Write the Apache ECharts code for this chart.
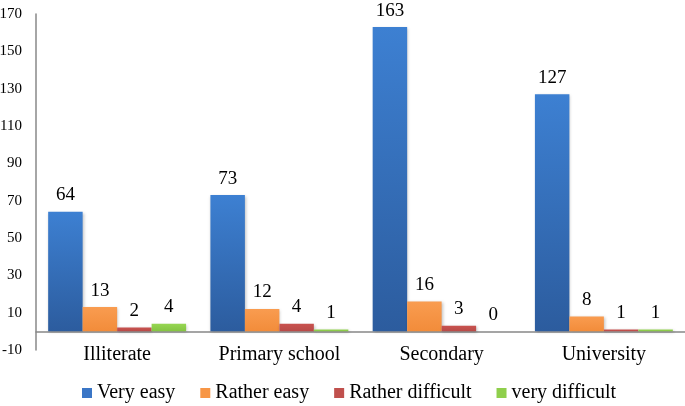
<!DOCTYPE html>
<html>
<head>
<meta charset="utf-8">
<script src="https://cdn.jsdelivr.net/npm/echarts@6/dist/echarts.min.js"></script>
<style>
  html, body { margin: 0; padding: 0; background: #fff; }
  #chart { width: 685px; height: 406px; }
</style>
</head>
<body>
<div id="chart"></div>
<script>
const categories = ["Illiterate", "Primary school", "Secondary", "University"];
const veryEasy = [64, 73, 163, 127];
const ratherEasy = [13, 12, 16, 8];
const ratherDifficult = [2, 4, 3, 1];
const veryDifficult = [4, 1, 0, 1];

const font = "Liberation Serif";

function grad(top, bottom) {
  return new echarts.graphic.LinearGradient(0, 0, 0, 1, [
    { offset: 0, color: top },
    { offset: 1, color: bottom }
  ]);
}

function makeSeries(name, data, top, bottom) {
  return {
    name: name,
    type: "bar",
    data: data,
    barGap: 0,
    barCategoryGap: "15%",
    itemStyle: {
      color: grad(top, bottom),
      shadowColor: "rgba(0,0,0,0.25)",
      shadowBlur: 3,
      shadowOffsetX: 1,
      shadowOffsetY: 1
    },
    label: {
      show: true,
      position: "top",
      distance: 7,
      color: "#000",
      fontFamily: font,
      fontSize: 19
    }
  };
}

const chart = echarts.init(document.getElementById("chart"));
chart.setOption({
  animation: false,
  textStyle: { fontFamily: font },
  grid: { left: 36, right: 0, top: 14, bottom: 56, containLabel: false, outerBoundsMode: "none" },
  legend: {
    top: 383,
    left: 82,
    padding: 0,
    itemWidth: 10,
    itemHeight: 10,
    itemGap: 25,
    icon: "rect",
    textStyle: { fontFamily: font, fontSize: 20, color: "#000" },
    data: [
      { name: "Very easy", itemStyle: { color: "#3a76c6" } },
      { name: "Rather easy", itemStyle: { color: "#f79646" } },
      { name: "Rather difficult", itemStyle: { color: "#c0504d" } },
      { name: "very difficult", itemStyle: { color: "#8fcf4c" } }
    ]
  },
  xAxis: {
    type: "category",
    data: categories,
    axisLine: { onZero: true, lineStyle: { color: "#888", width: 1.5 } },
    axisTick: { show: false },
    axisLabel: {
      color: "#000",
      fontFamily: font,
      fontSize: 20,
      margin: -5
    }
  },
  yAxis: {
    type: "value",
    min: -10,
    max: 170,
    interval: 20,
    splitLine: { show: false },
    axisLine: { show: true, lineStyle: { color: "#888", width: 1.5 } },
    axisTick: { show: false },
    axisLabel: {
      color: "#000",
      fontFamily: font,
      fontSize: 15,
      margin: 14
    }
  },
  series: [
    makeSeries("Very easy", veryEasy, "#3d80d2", "#2c5c9e"),
    makeSeries("Rather easy", ratherEasy, "#f99c50", "#f28c3a"),
    makeSeries("Rather difficult", ratherDifficult, "#c9524f", "#b84a47"),
    makeSeries("very difficult", veryDifficult, "#96d652", "#84c442")
  ]
});
</script>
</body>
</html>
